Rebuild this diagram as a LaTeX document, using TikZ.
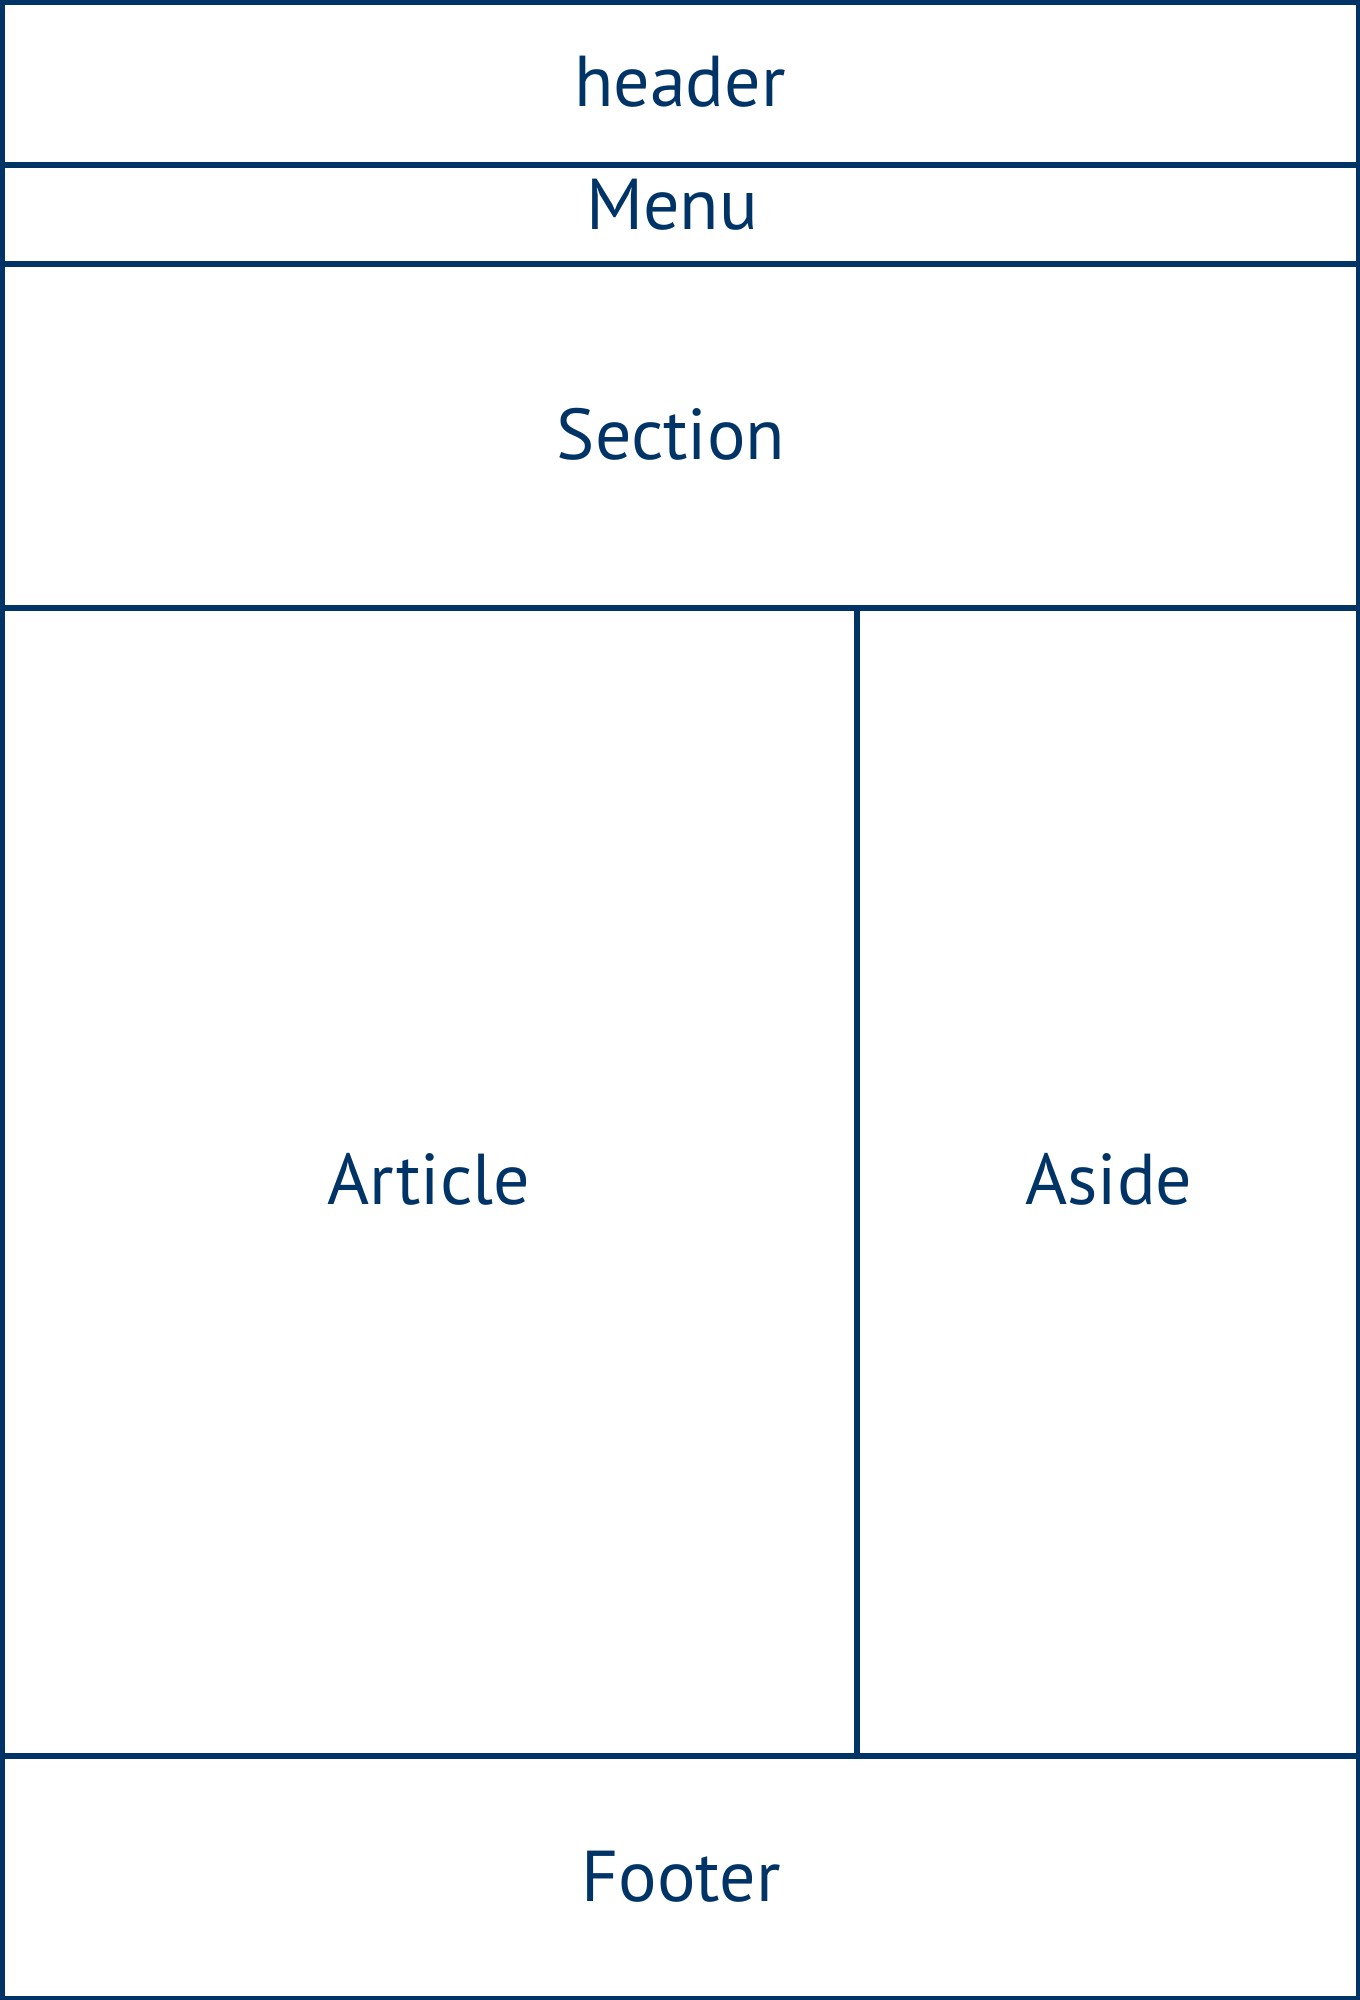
\documentclass[tikz,border=0pt]{standalone}
\usepackage{fontspec}
\setmainfont{PT Sans}
\definecolor{navy}{RGB}{0,51,102}
\tikzset{every picture/.style={line width=5.5pt}}
\begin{document}
\begin{tikzpicture}[x=1pt,y=-1pt,
  frame/.style={draw=navy},
  lbl/.style={anchor=base,text=navy,inner sep=0pt,font=\fontsize{72}{80}\selectfont}]
\useasboundingbox (0,0) rectangle (1360,2000);
% outer box and dividing lines
\draw[frame] (1.75,1.75) rectangle (1358.25,1998.25);
\coordinate (hl) at (0,165);   \coordinate (hr) at (1360,165);
\coordinate (ml) at (0,264);   \coordinate (mr) at (1360,264);
\coordinate (sl) at (0,608);   \coordinate (sr) at (1360,608);
\coordinate (fl) at (0,1756);  \coordinate (fr) at (1360,1756);
\coordinate (dt) at (857,608); \coordinate (db) at (857,1756);
\draw[frame] (hl)--(hr);
\draw[frame] (ml)--(mr);
\draw[frame] (sl)--(sr);
\draw[frame] (fl)--(fr);
\draw[frame] (dt)--(db);
% labels
\node[lbl] (header) at (680,106) {header};
\node[lbl] (menu) at (672,229) {Menu};
\node[lbl] (section) at (671,459) {Section};
\node[lbl] (article) at (429,1204) {Article};
\node[lbl] (aside) at (1109,1204) {Aside};
\node[lbl] (footer) at (681,1901) {Footer};
\end{tikzpicture}
\end{document}
